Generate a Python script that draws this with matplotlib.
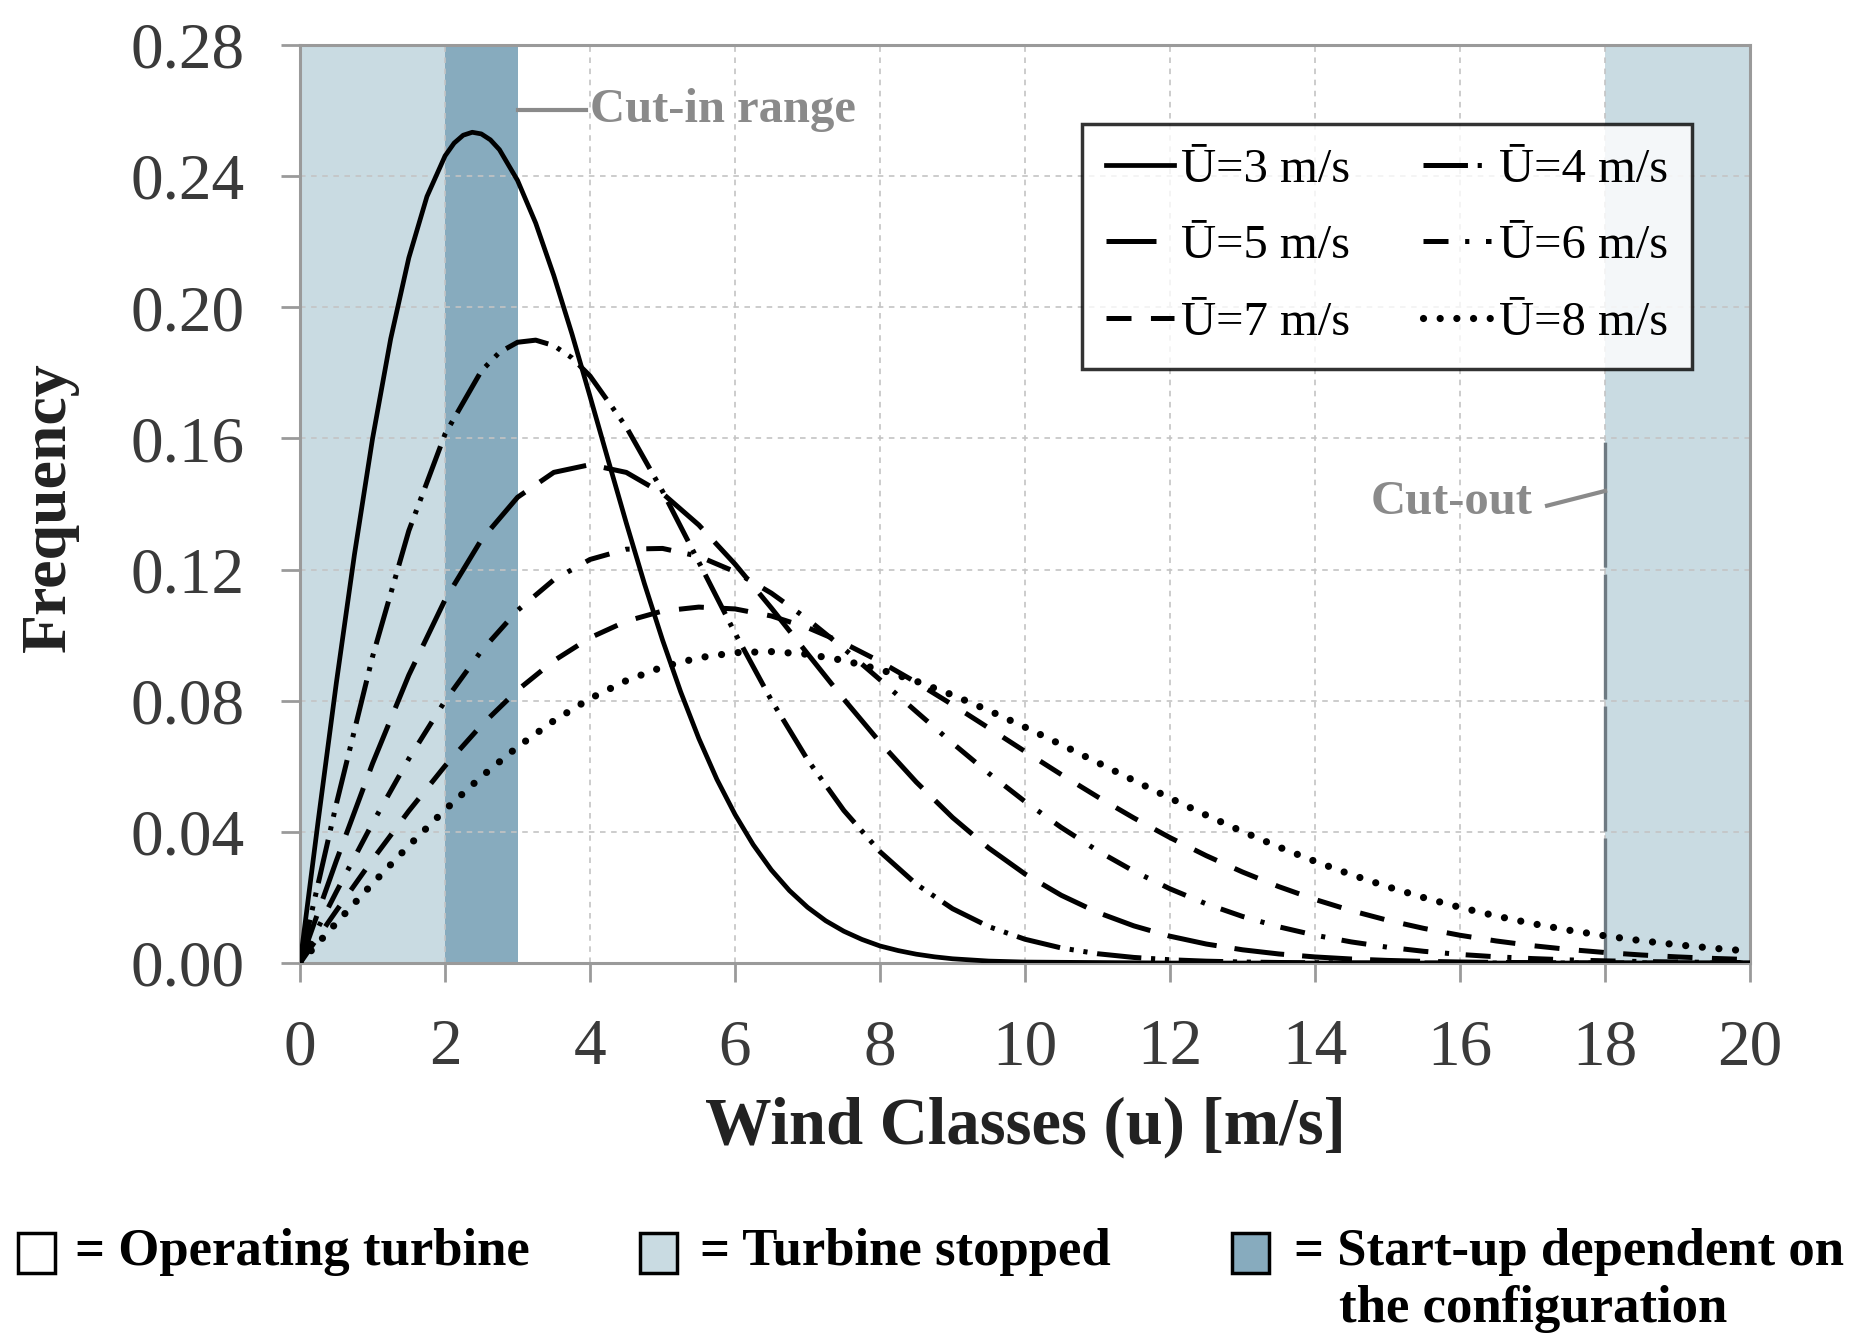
import matplotlib
matplotlib.use("Agg")
import matplotlib.pyplot as plt
from matplotlib.patches import Rectangle
from matplotlib.ticker import FormatStrFormatter

plt.rcParams['font.family'] = ['Liberation Serif', 'DejaVu Serif']
plt.rcParams['lines.scale_dashes'] = False

# ---------------- data ----------------
speed_u3 = [0, 0.25, 0.5, 0.75, 1.0, 1.25, 1.5, 1.75, 2.0, 2.125, 2.25, 2.375, 2.5, 2.625,
            2.75, 3.0, 3.25, 3.5, 3.75, 4.0, 4.25, 4.5, 4.75, 5.0, 5.25, 5.5, 5.75, 6.0,
            6.25, 6.5, 6.75, 7.0, 7.25, 7.5, 7.75, 8.0, 8.25, 8.5, 8.75, 9.0, 9.5, 10.0,
            12, 14, 16, 18, 20]
freq_u3 = [0, 0.0434, 0.0854, 0.1246, 0.1600, 0.1904, 0.2151, 0.2338, 0.2462, 0.2501,
           0.2525, 0.2534, 0.2529, 0.2511, 0.2481, 0.2387, 0.2257, 0.2097, 0.1919, 0.1728,
           0.1534, 0.1342, 0.1157, 0.0985, 0.0827, 0.0685, 0.0560, 0.0453, 0.0361, 0.0284,
           0.0221, 0.0170, 0.0129, 0.0097, 0.0072, 0.0052, 0.0038, 0.0027, 0.0019, 0.0013,
           0.0006, 0.0003, 0, 0, 0, 0, 0]

speed_u4 = [0, 0.5, 1, 1.5, 2, 2.5, 2.75, 3, 3.25, 3.5, 3.75, 4, 4.5, 5, 5.5, 6, 6.5, 7,
            7.5, 8, 8.5, 9, 9.5, 10, 10.5, 11, 11.5, 12, 12.5, 13, 13.5, 14, 14.5, 15,
            15.5, 16, 17, 18, 19, 20]
freq_u4 = [0, 0.04849, 0.09347, 0.13186, 0.16135, 0.18059, 0.18626, 0.18935, 0.18999,
           0.18833, 0.18460, 0.17905, 0.16349, 0.14388, 0.12232, 0.10061, 0.08020, 0.06201,
           0.04655, 0.03394, 0.02406, 0.01658, 0.01111, 0.00725, 0.00460, 0.00284, 0.00171,
           0.00100, 0.00057, 0.00032, 0.00017, 0.00009, 0.00004, 0.00002, 0.00001, 0, 0,
           0, 0, 0]

speed = [0, 0.5, 1, 1.5, 2, 2.5, 3, 3.5, 4, 4.5, 5, 5.5, 6, 6.5, 7, 7.5, 8, 8.5, 9, 9.5, 10,
         10.5, 11, 11.5, 12, 12.5, 13, 13.5, 14, 14.5, 15, 15.5, 16, 16.5, 17, 17.5, 18,
         18.5, 19, 19.5, 20]
freq_u5 = [0, 0.03117, 0.06089, 0.08782, 0.11082, 0.12908, 0.14207, 0.14966, 0.15202, 0.14965,
           0.14324, 0.13361, 0.12167, 0.10831, 0.09434, 0.08049, 0.06731, 0.05519, 0.04439,
           0.03505, 0.02715, 0.02066, 0.01544, 0.01134, 0.00818, 0.00580, 0.00404, 0.00277,
           0.00186, 0.00123, 0.00080, 0.00051, 0.00032, 0.00020, 0.00012, 0.00007, 0.00004,
           0.00002, 0.00001, 0.00001, 0]
freq_u6 = [0, 0.02170, 0.04269, 0.06231, 0.07997, 0.09518, 0.10756, 0.11690, 0.12310, 0.12623,
           0.12646, 0.12404, 0.11936, 0.11283, 0.10487, 0.09592, 0.08640, 0.07668, 0.06707,
           0.05786, 0.04924, 0.04134, 0.03426, 0.02802, 0.02263, 0.01804, 0.01421, 0.01105,
           0.00849, 0.00644, 0.00483, 0.00358, 0.00262, 0.00190, 0.00136, 0.00096, 0.00067,
           0.00046, 0.00032, 0.00021, 0.00014]
freq_u7 = [0, 0.01596, 0.03155, 0.04638, 0.06013, 0.07250, 0.08325, 0.09220, 0.09922, 0.10427,
           0.10737, 0.10857, 0.10801, 0.10586, 0.10231, 0.09759, 0.09194, 0.08559, 0.07877,
           0.07168, 0.06453, 0.05749, 0.05070, 0.04426, 0.03825, 0.03274, 0.02776, 0.02331,
           0.01939, 0.01598, 0.01305, 0.01057, 0.00847, 0.00673, 0.00530, 0.00414, 0.00321,
           0.00246, 0.00187, 0.00141, 0.00105]
freq_u8 = [0, 0.01223, 0.02424, 0.03581, 0.04674, 0.05683, 0.06593, 0.07391, 0.08067, 0.08614,
           0.09030, 0.09313, 0.09467, 0.09499, 0.09417, 0.09230, 0.08952, 0.08596, 0.08175,
           0.07703, 0.07194, 0.06661, 0.06116, 0.05569, 0.05030, 0.04509, 0.04010, 0.03540,
           0.03101, 0.02696, 0.02328, 0.01995, 0.01697, 0.01434, 0.01203, 0.01002, 0.00829,
           0.00681, 0.00555, 0.00451, 0.00362]

series_labels = ["\u016a=3 m/s", "\u016a=4 m/s", "\u016a=5 m/s",
                 "\u016a=6 m/s", "\u016a=7 m/s", "\u016a=8 m/s"]

stopped_ranges = [(0, 2), (18, 20)]
startup_range = (2, 3)
cut_out_speed = 18

x_ticks = [0, 2, 4, 6, 8, 10, 12, 14, 16, 18, 20]
y_ticks = [0.00, 0.04, 0.08, 0.12, 0.16, 0.20, 0.24, 0.28]

# ---------------- styling ----------------
LIGHT = '#c9dbe2'
DARK = '#87abbe'
GRAY = '#8a8a8a'

fig = plt.figure(figsize=(18.58, 13.37), dpi=100)
ax = fig.add_axes([0.1615, 0.2797, 0.7804, 0.6866])

for a, b in stopped_ranges:
    ax.axvspan(a, b, color=LIGHT, lw=0, zorder=1)
ax.axvspan(*startup_range, color=DARK, lw=0, zorder=1)

styles = [
    dict(ls='-', lw=3.4),
    dict(ls=(0, (32, 7, 3, 7, 3, 7)), lw=3.6),
    dict(ls=(0, (36, 13)), lw=3.6),
    dict(ls=(0, (18, 12, 3, 12)), lw=3.6),
    dict(ls=(0, (18, 14)), lw=3.6),
    dict(ls=(0, (0.01, 12)), lw=5.2, dash_capstyle='round'),
]
xs = [speed_u3, speed_u4, speed, speed, speed, speed]
ys = [freq_u3, freq_u4, freq_u5, freq_u6, freq_u7, freq_u8]
handles = []
for x, y, st, lab in zip(xs, ys, styles, series_labels):
    h, = ax.plot(x, y, color='black', label=lab, zorder=3, solid_joinstyle='round', **st)
    handles.append(h)

# cut-out line
ax.plot([cut_out_speed, cut_out_speed], [0, 0.16], color='#6e7a82', lw=2.4,
        ls=(0, (90, 5)), zorder=2.5)

ax.set_xlim(0, 20)
ax.set_ylim(0, 0.28)
ax.set_xticks(x_ticks)
ax.set_yticks(y_ticks)
ax.yaxis.set_major_formatter(FormatStrFormatter('%.2f'))
ax.grid(True, color='#c4c4c4', ls=(0, (4, 4)), lw=1.2)
for sp in ax.spines.values():
    sp.set_color('#9a9a9a')
    sp.set_linewidth(2.2)
ax.tick_params(axis='both', direction='out', length=14, width=2, color='#9a9a9a',
               labelsize=47, labelcolor='#3a3a3a', pad=26)

ax.set_xlabel('Wind Classes (u) [m/s]', fontsize=48, fontweight='bold', color='#222222')
ax.xaxis.set_label_coords(0.5, -0.145)
ax.xaxis.label.set_va('top')

fig.text(50 / 1858, 1 - 507 / 1337, 'Frequency', rotation=90, fontsize=46,
         fontweight='bold', color='#222222', ha='center', va='center')

# annotations
ax.plot([3, 3.95], [0.2602, 0.2602], color=GRAY, lw=3, zorder=2.5)
ax.text(4.0, 0.2602, 'Cut-in range', fontsize=35, fontweight='bold', color=GRAY,
        ha='left', va='center')
ax.plot([17.2, 18], [0.1395, 0.1440], color=GRAY, lw=3, zorder=2.5)
ax.text(17.0, 0.1406, 'Cut-out', fontsize=35, fontweight='bold', color=GRAY,
        ha='right', va='center')

order = [0, 2, 4, 1, 3, 5]
leg = ax.legend([handles[i] for i in order], [series_labels[i] for i in order],
                ncol=2, loc='upper left', bbox_to_anchor=(0.539, 0.914),
                borderaxespad=0, fontsize=35, frameon=True, fancybox=False,
                edgecolor='black', handlelength=1.4, handletextpad=0.15,
                columnspacing=1.5, labelspacing=0.66, borderpad=0.5)
leg.get_frame().set_linewidth(2.5)
leg.set_zorder(5)

# bottom key
key_items = [
    (0.0097, 'white', 0.0404, '= Operating turbine'),
    (0.3445, LIGHT, 0.3765, '= Turbine stopped'),
    (0.6630, DARK, 0.6965, '= Start-up dependent on'),
]
for bx, col, tx, txt in key_items:
    fig.patches.append(Rectangle((bx, 0.0475), 0.020, 0.030, transform=fig.transFigure,
                                 facecolor=col, edgecolor='black', lw=2.5))
    fig.text(tx, 0.0635, txt, fontsize=38, fontweight='bold', ha='left', va='center')
fig.text(0.7207, 0.021, 'the configuration', fontsize=38, fontweight='bold',
         ha='left', va='center')

fig.savefig('out.png', dpi=100)
